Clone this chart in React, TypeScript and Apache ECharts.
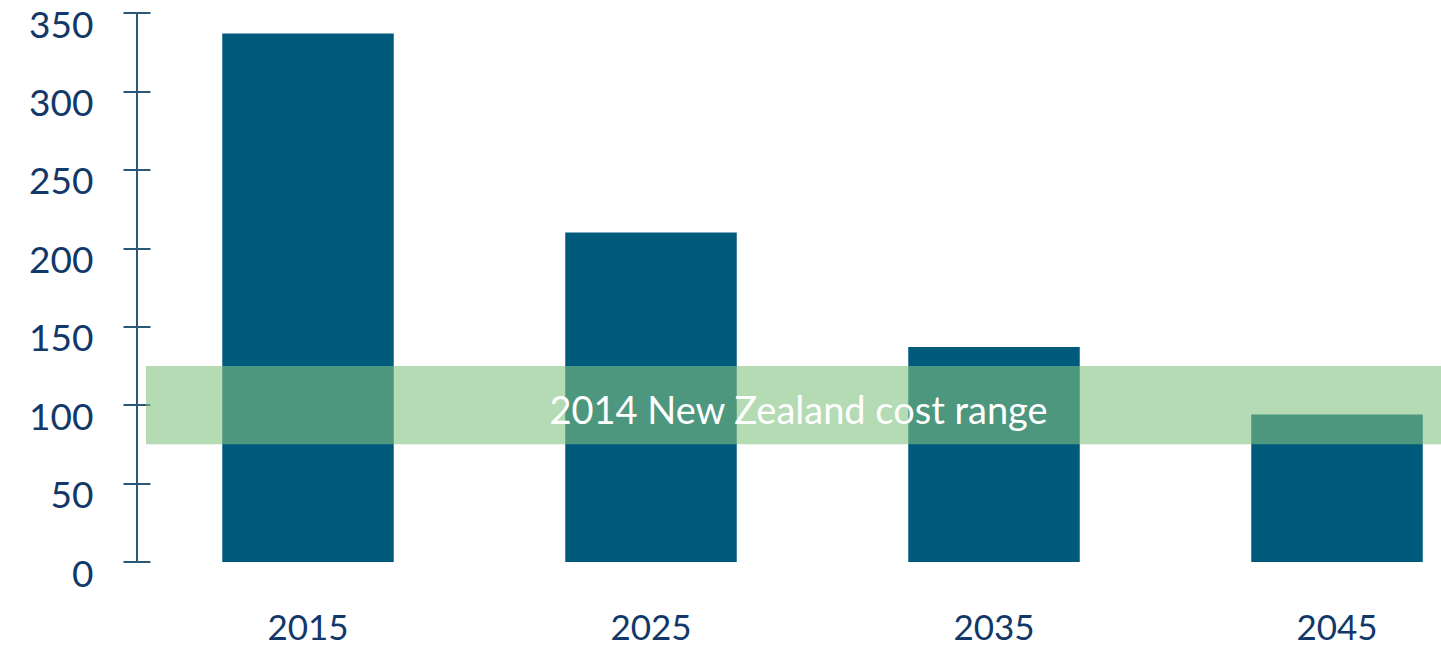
import React, { useEffect, useRef } from "react";
import * as echarts from "echarts";

const categories = ["2015", "2025", "2035", "2045"];
const costValues = [337, 210, 137, 94];
const bandRange = [75, 125];
const bandLabel = "2014 New Zealand cost range";
const yTicks = { min: 0, max: 350, interval: 50 };

const TEXT = "#12386a";
const AXIS = "#2b5876";
const BAR = "#005a7c";

export default function App() {
  const ref = useRef<HTMLDivElement>(null);
  useEffect(() => {
    const chart = echarts.init(ref.current!, null, { renderer: "svg" });
    const font = "Lato, 'Open Sans', sans-serif";
    chart.setOption({
      animation: false,
      grid: {
        left: 136.5,
        top: 13,
        width: 1372,
        height: 549,
        containLabel: false,
        outerBoundsMode: "none",
      },
      xAxis: {
        type: "category",
        data: categories,
        axisLine: { show: false },
        axisTick: { show: false },
        axisLabel: { color: TEXT, fontSize: 35, fontFamily: font, margin: 46 },
      },
      yAxis: [
        {
          type: "value",
          ...yTicks,
          position: "left",
          splitLine: { show: false },
          axisLine: { show: true, lineStyle: { color: AXIS, width: 2 } },
          axisTick: { show: true, length: 13, lineStyle: { color: AXIS, width: 2 } },
          axisLabel: {
            color: TEXT,
            fontSize: 37,
            fontFamily: font,
            margin: 43,
            verticalAlign: "top",
            lineHeight: 20,
          },
        },
        {
          type: "value",
          ...yTicks,
          position: "left",
          splitLine: { show: false },
          axisLine: { show: false },
          axisTick: { show: true, inside: true, length: 14, lineStyle: { color: AXIS, width: 2 } },
          axisLabel: { show: false },
        },
      ],
      series: [
        {
          type: "bar",
          data: costValues,
          barWidth: "50%",
          itemStyle: { color: BAR },
          markArea: {
            z: 5,
            silent: true,
            itemStyle: { color: "#82c280", opacity: 0.59 },
            label: {
              show: true,
              position: "inside",
              color: "#ffffff",
              fontSize: 38,
              fontFamily: font,
              offset: [5, 4],
            },
            data: [
              [
                { name: bandLabel, yAxis: bandRange[0], x: 146 },
                { yAxis: bandRange[1], x: 1441 },
              ],
            ],
          },
        },
      ],
    });
    return () => chart.dispose();
  }, []);
  return (
    <div
      ref={ref}
      style={{ position: "absolute", left: 0, top: 0, width: 1441, height: 647, background: "#fff" }}
    />
  );
}
